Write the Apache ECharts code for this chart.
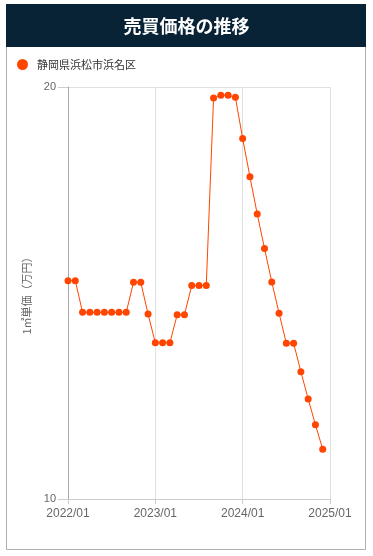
<!DOCTYPE html>
<html>
<head>
<meta charset="utf-8">
<script src="https://cdn.jsdelivr.net/npm/echarts@6/dist/echarts.min.js"></script>
<style>
html,body{margin:0;padding:0;background:#fff;}
#c{width:373px;height:556px;}
</style>
</head>
<body>
<div id="c"></div>
<script>
const titleText = '売買価格の推移';
const seriesName = '静岡県浜松市浜名区';
const yAxisName = '1㎡単価（万円）';
const categories = [
  '2022/01','2022/02','2022/03','2022/04','2022/05','2022/06','2022/07','2022/08','2022/09','2022/10','2022/11','2022/12',
  '2023/01','2023/02','2023/03','2023/04','2023/05','2023/06','2023/07','2023/08','2023/09','2023/10','2023/11','2023/12',
  '2024/01','2024/02','2024/03','2024/04','2024/05','2024/06','2024/07','2024/08','2024/09','2024/10','2024/11','2024/12',
  '2025/01'
];
const values = [
  15.30, 15.30, 14.53, 14.53, 14.53, 14.53, 14.53, 14.53, 14.53, 15.26, 15.26, 14.49,
  13.79, 13.79, 13.79, 14.47, 14.47, 15.18, 15.18, 15.18, 19.73, 19.80, 19.80, 19.75,
  18.75, 17.82, 16.92, 16.08, 15.27, 14.51, 13.78, 13.78, 13.09, 12.43, 11.80, 11.21
];
const yMin = 10, yMax = 20;

const chart = echarts.init(document.getElementById('c'), null, {renderer: 'canvas'});
const font = '"Noto Sans CJK JP", "Noto Sans", sans-serif';
chart.setOption({
  animation: false,
  textStyle: {fontFamily: font},
  graphic: [
    {type: 'rect', z: -1, shape: {x: 6.5, y: 46.5, width: 359, height: 503}, style: {fill: '#fff', stroke: '#b0b0b0', lineWidth: 1}},
    {type: 'rect', z: 0, shape: {x: 6, y: 4, width: 360, height: 43}, style: {fill: '#082336'}}
  ],
  title: {
    text: titleText,
    left: 'center',
    top: 12,
    textStyle: {color: '#fff', fontSize: 18, fontWeight: 'bold', fontFamily: font}
  },
  legend: {
    left: 12,
    top: 54,
    icon: 'circle',
    itemWidth: 11,
    itemHeight: 11,
    itemGap: 8,
    textStyle: {fontSize: 11, color: '#333', fontFamily: font, padding: [0, 0, 0, 4]},
    data: [seriesName]
  },
  grid: {left: 68, right: 43, top: 87, bottom: 57, containLabel: false},
  xAxis: {
    type: 'category',
    data: categories,
    boundaryGap: false,
    axisLine: {show: true, lineStyle: {color: '#ccc'}},
    axisTick: {show: true, interval: 11, length: 5, lineStyle: {color: '#ccc'}},
    axisLabel: {interval: 11, color: '#666', fontSize: 12, margin: 9, fontFamily: 'Arial, "Liberation Sans", sans-serif'},
    splitLine: {show: true, interval: 11, lineStyle: {color: '#e0e0e0'}}
  },
  yAxis: {
    type: 'value',
    min: yMin,
    max: yMax,
    interval: 10,
    name: yAxisName,
    nameLocation: 'middle',
    nameGap: 36,
    nameRotate: 90,
    nameTextStyle: {color: '#666', fontSize: 11, fontFamily: font},
    axisLine: {show: true, lineStyle: {color: '#aaa'}},
    axisTick: {show: true, length: 10, lineStyle: {color: '#ccc'}},
    axisLabel: {color: '#666', fontSize: 11, margin: 12, fontFamily: 'Arial, "Liberation Sans", sans-serif'},
    splitLine: {show: true, lineStyle: {color: '#e0e0e0'}}
  },
  series: [{
    name: seriesName,
    type: 'line',
    data: values,
    symbol: 'circle',
    symbolSize: 7,
    showSymbol: true,
    showAllSymbol: true,
    itemStyle: {color: '#ff4500'},
    lineStyle: {color: '#ff4500', width: 1}
  }]
});
</script>
</body>
</html>
